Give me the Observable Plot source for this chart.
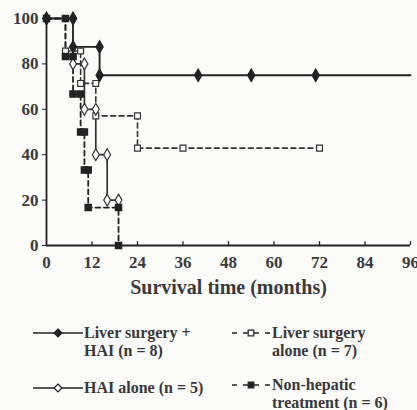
<!DOCTYPE html>
<html>
<head>
<meta charset="utf-8">
<script src="https://cdn.jsdelivr.net/npm/d3@7"></script>
<script src="https://cdn.jsdelivr.net/npm/@observablehq/plot@0.6"></script>
<style>
  html, body { margin: 0; padding: 0; background: #fbfbfa; }
  #chart { width: 417px; height: 305px; }
  .legend { position: relative; width: 417px; height: 105px; font-family: "Liberation Serif", "DejaVu Serif", serif; font-weight: bold; font-size: 16px; color: #383838; }
  .item { position: absolute; display: flex; align-items: flex-start; }
  .item svg { flex: none; margin-top: 2px; }
  .item span { line-height: 18px; white-space: nowrap; }
</style>
</head>
<body>
<div id="chart"></div>
<script>
// Series: Kaplan–Meier step vertices (months, % surviving)
const lsHaiTime = [0, 7, 7, 14, 14, 40, 54, 71, 96];
const lsHaiSurv = [100, 100, 87.5, 87.5, 75, 75, 75, 75, 75];

const lsAloneTime = [0, 5, 5, 9, 9, 13, 13, 24, 24, 36, 72];
const lsAloneSurv = [100, 100, 85.7, 85.7, 71.4, 71.4, 57.1, 57.1, 42.9, 42.9, 42.9];

const haiAloneTime = [0, 7, 7, 10, 10, 13, 13, 16, 16, 19];
const haiAloneSurv = [100, 100, 80, 80, 60, 60, 40, 40, 20, 20];

const nonHepTime = [0, 5, 5, 7, 7, 9, 9, 10, 10, 11, 11, 19, 19];
const nonHepSurv = [100, 100, 83.3, 83.3, 66.7, 66.7, 50, 50, 33.3, 33.3, 16.7, 16.7, 0];

const seriesNames = ["Liver surgery + HAI (n = 8)", "Liver surgery alone (n = 7)", "HAI alone (n = 5)", "Non-hepatic treatment (n = 6)"];

const xTicks = [0, 12, 24, 36, 48, 60, 72, 84, 96];
const yTicks = [0, 20, 40, 60, 80, 100];
const xLabel = "Survival time (months)";

const toRows = (t, s, name) => t.map((x, i) => ({x, y: s[i], name, last: i === t.length - 1}));
const lsHai = toRows(lsHaiTime, lsHaiSurv, seriesNames[0]);
const lsAlone = toRows(lsAloneTime, lsAloneSurv, seriesNames[1]);
const haiAlone = toRows(haiAloneTime, haiAloneSurv, seriesNames[2]);
const nonHep = toRows(nonHepTime, nonHepSurv, seriesNames[3]);

const ink = "#222";
const font = "Liberation Serif, DejaVu Serif, serif";

const plot = Plot.plot({
  width: 417,
  height: 305,
  marginLeft: 46,
  marginRight: 7,
  marginTop: 18,
  marginBottom: 60,
  style: {background: "transparent", fontFamily: font, fontWeight: "bold", fontSize: "17px", color: "#3a3a3a", overflow: "visible"},
  x: {domain: [0, 96]},
  y: {domain: [0, 100]},
  marks: [
    Plot.ruleY([0], {stroke: ink, strokeWidth: 1.8}),
    Plot.ruleX([0], {stroke: ink, strokeWidth: 1.8}),
    Plot.ruleX(xTicks.slice(1), {x: d => d, y1: 0, y2: 1.7, stroke: ink, strokeWidth: 1.3}),
    Plot.axisX({ticks: xTicks, tickSize: 0, tickPadding: 10, tickFormat: d => d, fontSize: 17, label: null}),
    Plot.axisY({ticks: yTicks, tickSize: 4, tickPadding: 4, fontSize: 17, label: null, stroke: ink}),
    Plot.text([xLabel], {frameAnchor: "bottom", dy: 48, fontSize: 20, fill: "#3a3a3a"}),
    // lines
    Plot.line(lsHai, {x: "x", y: "y", stroke: ink, strokeWidth: 1.9}),
    Plot.line(haiAlone, {x: "x", y: "y", stroke: "#333", strokeWidth: 1.7}),
    Plot.line(lsAlone, {x: "x", y: "y", stroke: "#333", strokeWidth: 1.6, strokeDasharray: "5,3.5"}),
    Plot.line(nonHep, {x: "x", y: "y", stroke: ink, strokeWidth: 1.8, strokeDasharray: "5,3.5"}),
    // markers
    Plot.dot(lsAlone, {x: "x", y: "y", symbol: "square", r: 3.3, fill: "white", stroke: "#333", strokeWidth: 1.2}),
    Plot.dot(haiAlone, {x: "x", y: "y", symbol: "diamond", r: 3.6, fill: "white", stroke: "#333", strokeWidth: 1.2}),
    Plot.dot(nonHep, {x: "x", y: "y", symbol: "square", r: 3.4, fill: ink, stroke: ink}),
    Plot.dot(lsHai.filter(d => !d.last), {x: "x", y: "y", symbol: "diamond", r: 3.6, fill: ink, stroke: ink})
  ]
});
document.getElementById("chart").appendChild(plot);

// Legend (HTML, below the SVG)
const legend = d3.select("body").append("div").attr("class", "legend");
const legendItems = [
  {name: "Liver surgery +<br>HAI (n = 8)", left: 33, top: 19, dash: null, symbol: d3.symbolDiamond2, fill: ink},
  {name: "Liver surgery<br>alone (n = 7)", left: 231, top: 19, dash: "5,6", symbol: d3.symbolSquare2, fill: "white"},
  {name: "HAI alone (n = 5)", left: 33, top: 74, dash: null, symbol: d3.symbolDiamond2, fill: "white"},
  {name: "Non-hepatic<br>treatment (n = 6)", left: 231, top: 71, dash: "5,6", symbol: d3.symbolSquare2, fill: ink}
];
legendItems.forEach(it => {
  const div = legend.append("div").attr("class", "item").style("left", it.left + "px").style("top", it.top + "px");
  const w = it.dash ? 40 : 50;
  const svg = div.append("svg").attr("width", w + 1).attr("height", 14);
  svg.append("line").attr("x1", 0).attr("x2", w).attr("y1", 7).attr("y2", 7)
    .attr("stroke", ink).attr("stroke-width", 1.7).attr("stroke-dasharray", it.dash)
    .attr("stroke-dashoffset", it.dash ? -1 : null);
  svg.append("path").attr("d", d3.symbol(it.symbol, 40)()).attr("transform", `translate(${w / 2},7)`)
    .attr("fill", it.fill).attr("stroke", ink).attr("stroke-width", 1.2);
  div.append("span").html(it.name);
});
</script>
</body>
</html>
